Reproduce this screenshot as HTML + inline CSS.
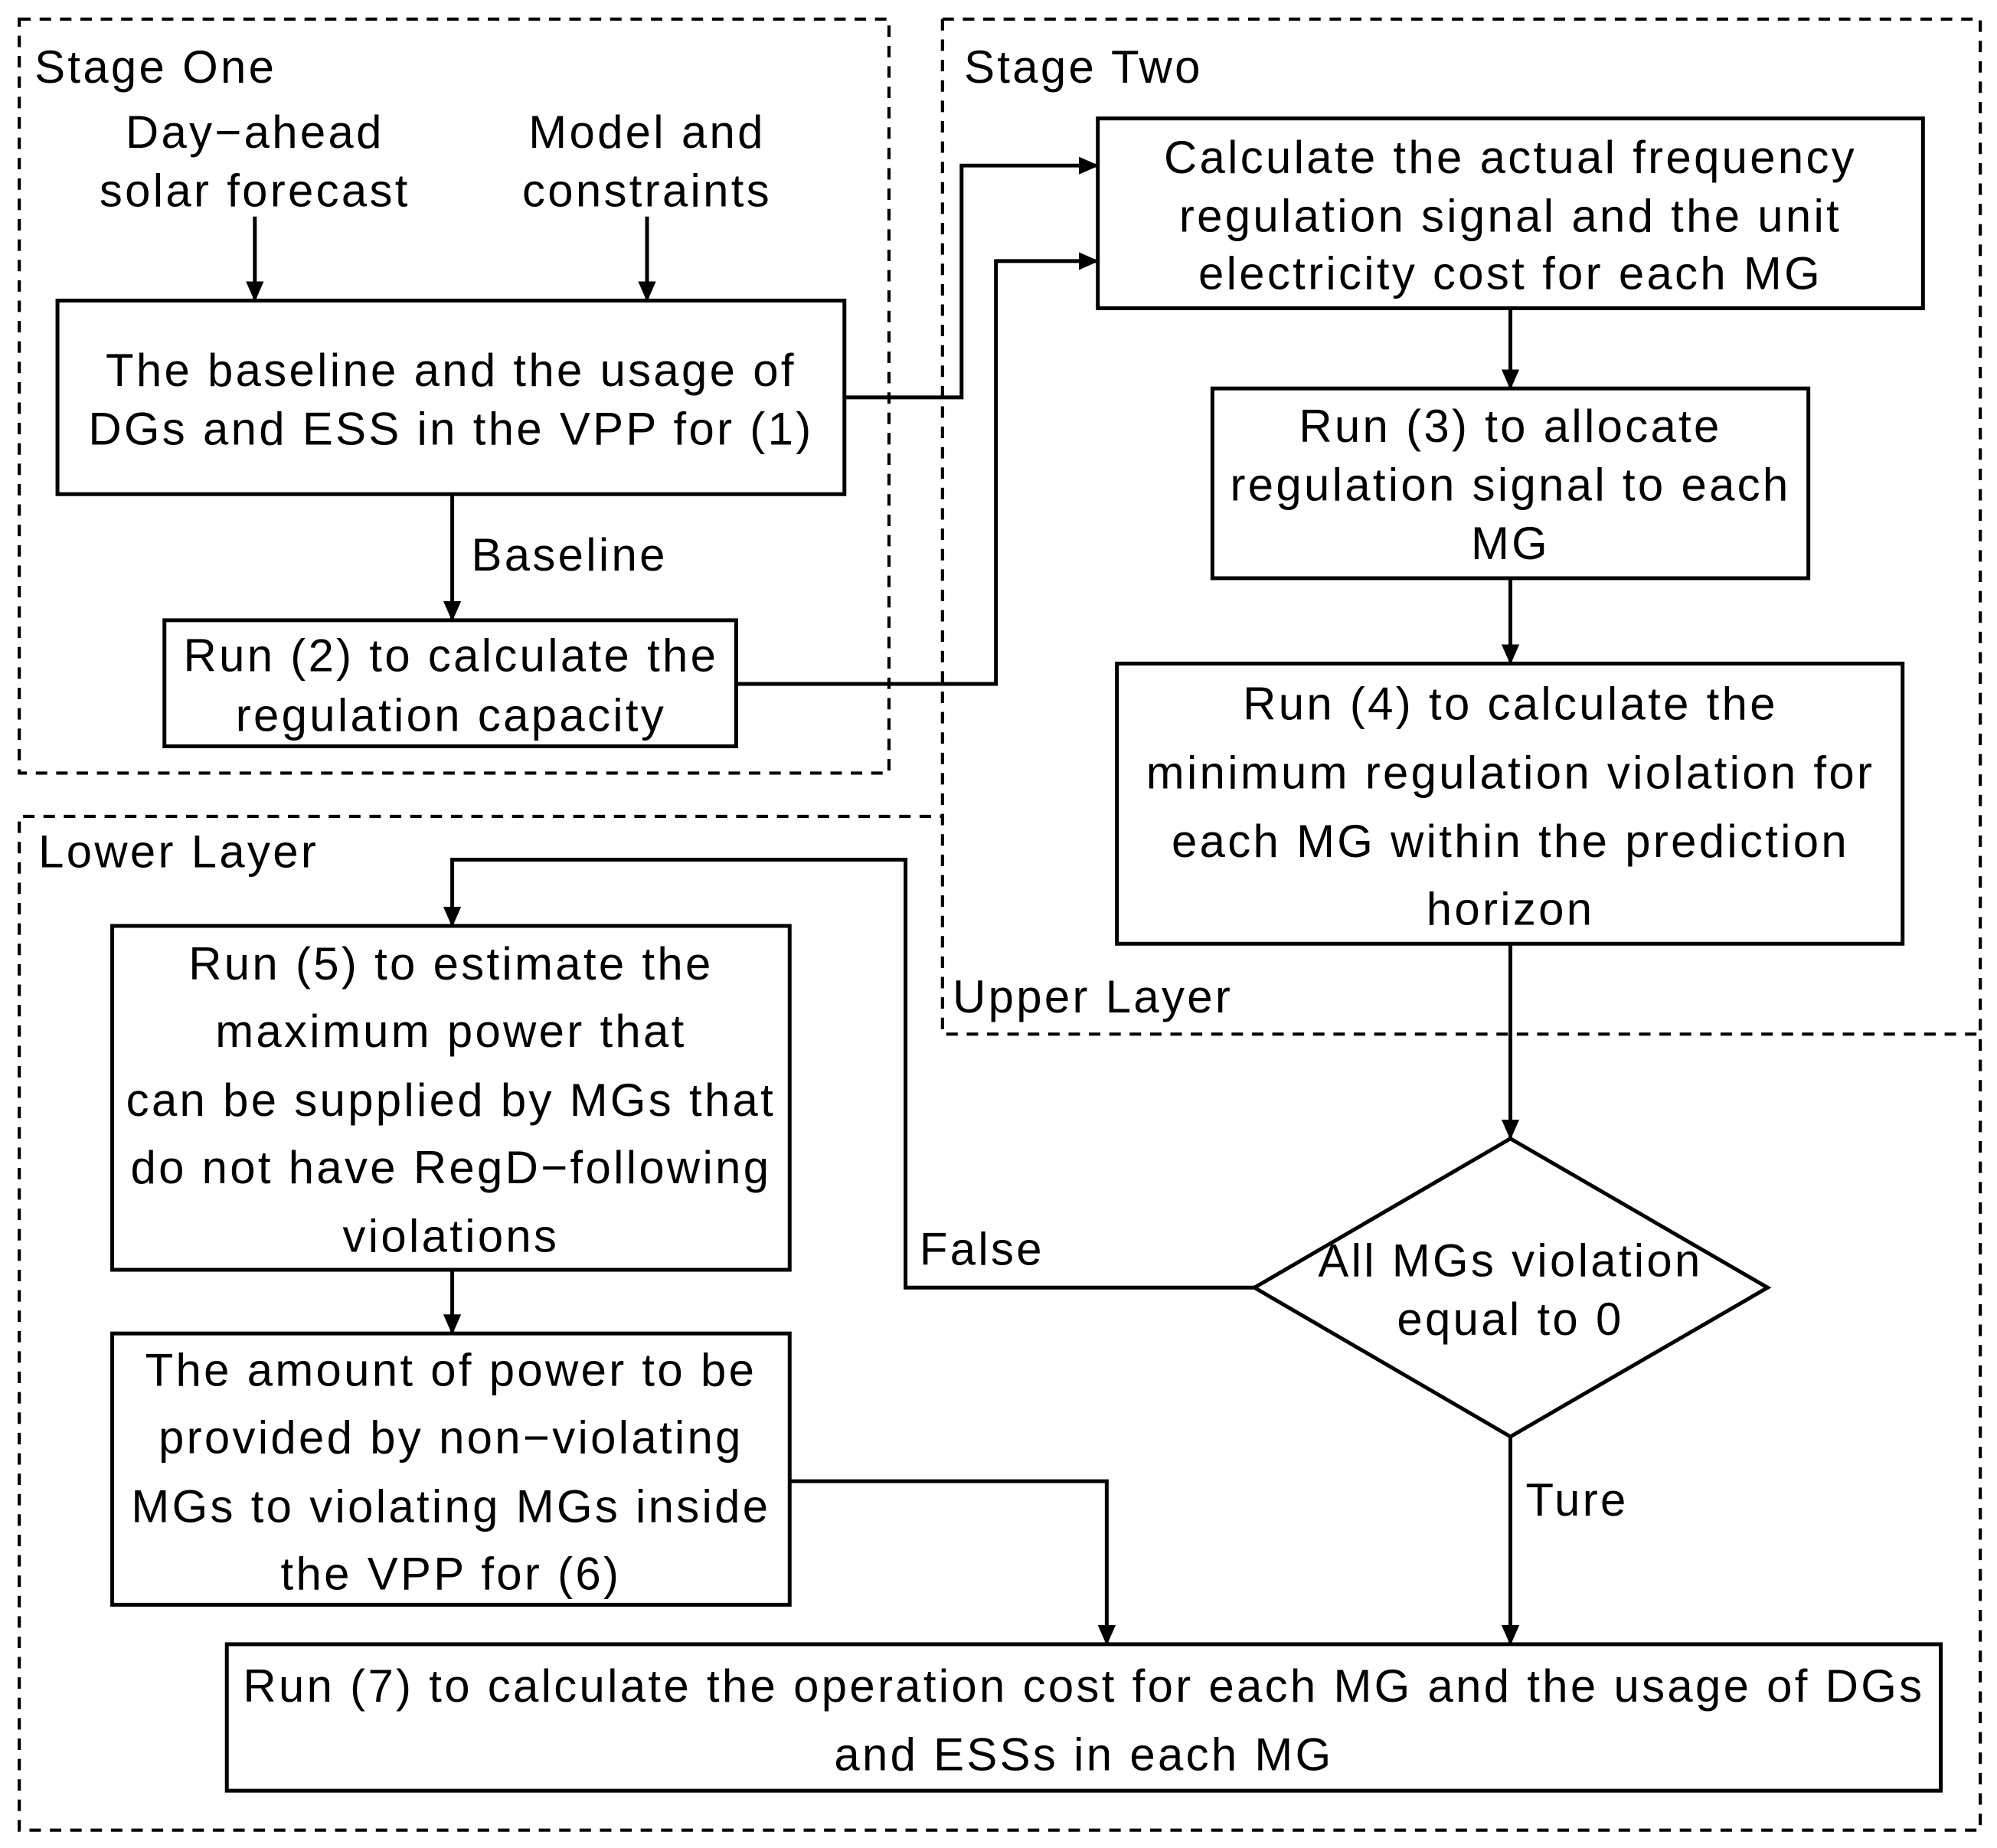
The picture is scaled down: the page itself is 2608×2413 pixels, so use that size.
<!DOCTYPE html>
<html><head><meta charset="utf-8"><style>html,body{margin:0;padding:0;background:#fff}svg{display:block}</style></head>
<body>
<svg width="2608" height="2413" viewBox="0 0 1568 1451" xmlns="http://www.w3.org/2000/svg">
<defs><marker id="b" markerWidth="16" markerHeight="16" refX="15" refY="8" orient="auto" markerUnits="userSpaceOnUse"><path d="M0,1 L16,8 L0,15 z" fill="#000"/></marker></defs>
<g fill="none" stroke="#000" stroke-width="2.5" stroke-dasharray="9,7">
<rect x="15" y="15" width="683" height="592"/>
<path d="M740 15 H1555 V1437 H15 V641 H740"/>
<path d="M740 15 V812 H1555"/>
</g>
<g fill="#fff" stroke="#000" stroke-width="3">
<rect x="45" y="236" width="618" height="152"/>
<rect x="129" y="487" width="449" height="99"/>
<rect x="862" y="93" width="648" height="149"/>
<rect x="952" y="305" width="468" height="149"/>
<rect x="877" y="521" width="617" height="220"/>
<polygon points="985,1011 1186,894 1388,1011 1186,1128"/>
<rect x="88" y="727" width="532" height="270"/>
<rect x="88" y="1047" width="532" height="213"/>
<rect x="178" y="1291" width="1346" height="115"/>
</g>
<g fill="none" stroke="#000" stroke-width="3" marker-end="url(#b)">
<path d="M200 170 V236"/><path d="M508 170 V236"/>
<path d="M355 388 V487"/>
<path d="M663 312 H755 V130 H862"/>
<path d="M578 537 H782 V205 H862"/>
<path d="M1186 242 V305"/><path d="M1186 454 V521"/><path d="M1186 741 V894"/>
<path d="M985 1011 H711 V675 H355 V727"/>
<path d="M1186 1128 V1291"/>
<path d="M355 997 V1047"/>
<path d="M620 1163 H869 V1291"/>
</g>
<g font-family="Liberation Sans, sans-serif" font-size="36" letter-spacing="2" fill="#000">
<text x="27" y="65">Stage One</text>
<text x="757" y="65">Stage Two</text>
<text x="30" y="681">Lower Layer</text>
<text x="748" y="795">Upper Layer</text>
<text x="370" y="448">Baseline</text>
<text x="722" y="993">False</text>
<text x="1198" y="1190">Ture</text>
<g text-anchor="middle">
<text x="200" y="116">Day−ahead</text><text x="200" y="162">solar forecast</text>
<text x="508" y="116">Model and</text><text x="508" y="162">constraints</text>
<text x="354" y="303">The baseline and the usage of</text><text x="354" y="349">DGs and ESS in the VPP for (1)</text>
<text x="354" y="527">Run (2) to calculate the</text><text x="354" y="574">regulation capacity</text>
<text x="1186" y="136">Calculate the actual frequency</text><text x="1186" y="182">regulation signal and the unit</text><text x="1186" y="227">electricity cost for each MG</text>
<text x="1186" y="347">Run (3) to allocate</text><text x="1186" y="393">regulation signal to each</text><text x="1186" y="439">MG</text>
<text x="1186" y="565">Run (4) to calculate the</text><text x="1186" y="619">minimum regulation violation for</text><text x="1186" y="673">each MG within the prediction</text><text x="1186" y="726">horizon</text>
<text x="1186" y="1002">All MGs violation</text><text x="1186" y="1048">equal to 0</text>
<text x="354" y="769">Run (5) to estimate the</text><text x="354" y="822">maximum power that</text><text x="354" y="876">can be supplied by MGs that</text><text x="354" y="929">do not have RegD−following</text><text x="354" y="983">violations</text>
<text x="354" y="1088">The amount of power to be</text><text x="354" y="1141">provided by non−violating</text><text x="354" y="1195">MGs to violating MGs inside</text><text x="354" y="1248">the VPP for (6)</text>
<text x="851" y="1336">Run (7) to calculate the operation cost for each MG and the usage of DGs</text><text x="851" y="1390">and ESSs in each MG</text>
</g></g>
</svg>
</body></html>
